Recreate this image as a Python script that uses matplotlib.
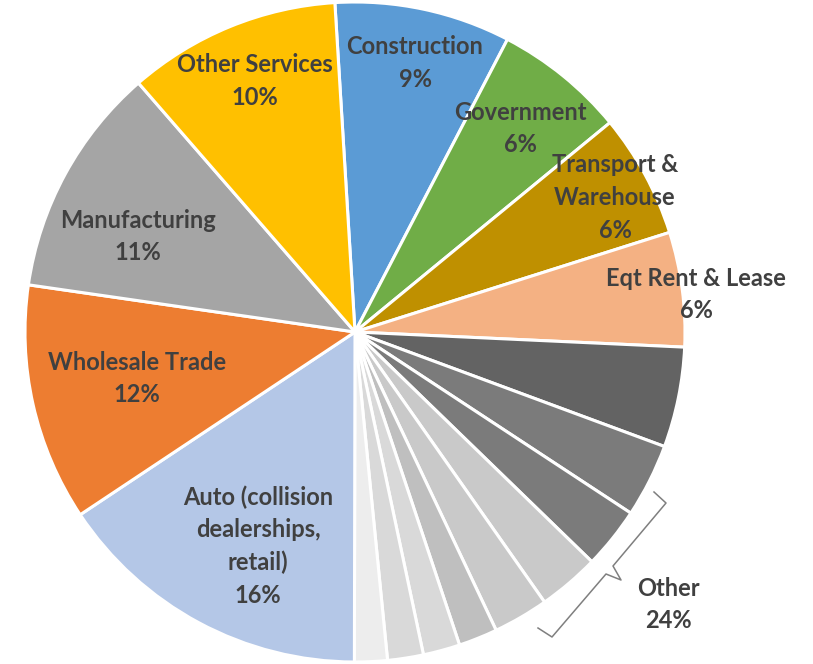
import matplotlib.pyplot as plt

# slices clockwise from the top
labels = ['Construction', 'Government', 'Transport &\nWarehouse', 'Eqt Rent & Lease',
          'o1', 'o2', 'o3', 'o4', 'o5', 'o6', 'o7', 'o8', 'o9',
          'Auto (collision\ndealerships,\nretail)', 'Wholesale Trade', 'Manufacturing',
          'Other Services']
values = [8.6, 6.4, 6.05, 5.6,
          4.9, 3.6, 3.0, 3.0, 2.7, 1.9, 1.8, 1.75, 1.6,
          15.6, 11.6, 11.3, 10.4]
colors = ['#5B9BD5', '#70AD47', '#BF9000', '#F4B183',
          '#636363', '#7B7B7B', '#7B7B7B', '#C9C9C9', '#C9C9C9', '#BFBFBF',
          '#D9D9D9', '#D9D9D9', '#EDEDED',
          '#B4C7E7', '#ED7D31', '#A5A5A5', '#FFC000']

other_label = 'Other'
other_idx = range(4, 13)

# label centres in pixels of the reference (x, y of first line)
label_pos = {
    'Construction': (415, 47),
    'Government': (520, 112),
    'Transport &\nWarehouse': (615, 165),
    'Eqt Rent & Lease': (696, 278),
    'Auto (collision\ndealerships,\nretail)': (258, 497),
    'Wholesale Trade': (137, 362),
    'Manufacturing': (138, 220),
    'Other Services': (255, 65),
}

W, H = 813, 664
CX, CY, R = 355, 332, 330


def to_data(px, py):
    return (px - CX) / R, (CY - py) / R


fig = plt.figure(figsize=(W / 100, H / 100), dpi=100)
ax = fig.add_axes([0, 0, 1, 1])
ax.pie(values, colors=colors, startangle=93.5, counterclock=False,
       wedgeprops=dict(edgecolor='white', linewidth=2.2))
ax.set_aspect('auto')
ax.set_xlim(to_data(0, 0)[0], to_data(W, 0)[0])
ax.set_ylim(to_data(0, H)[1], to_data(0, 0)[1])
ax.axis('off')

total = sum(values)
txt = dict(color='#404040', fontsize=17, fontweight='bold', family='Lato',
           ha='center', va='center')
line_h = 32.8
for lab, v in zip(labels, values):
    if lab not in label_pos:
        continue
    px, py = label_pos[lab]
    lines = lab.split('\n') + [f'{round(v / total * 100):.0f}%']
    for i, s in enumerate(lines):
        x, y = to_data(px, py + i * line_h)
        ax.text(x, y, s, **txt)

other_pct = sum(values[i] for i in other_idx) / total * 100
for i, s in enumerate([other_label, f'{round(other_pct):.0f}%']):
    x, y = to_data(668, 588 + i * line_h)
    ax.text(x, y, s, **txt)

# bracket around the "Other" slices
brace = [(654, 492), (666, 503), (613, 566), (621, 580), (606, 574), (552, 637), (538, 628)]
bx, by = zip(*[to_data(p, q) for p, q in brace])
ax.plot(bx, by, color='#7F7F7F', linewidth=1.1)

fig.savefig('out.png', dpi=100)
